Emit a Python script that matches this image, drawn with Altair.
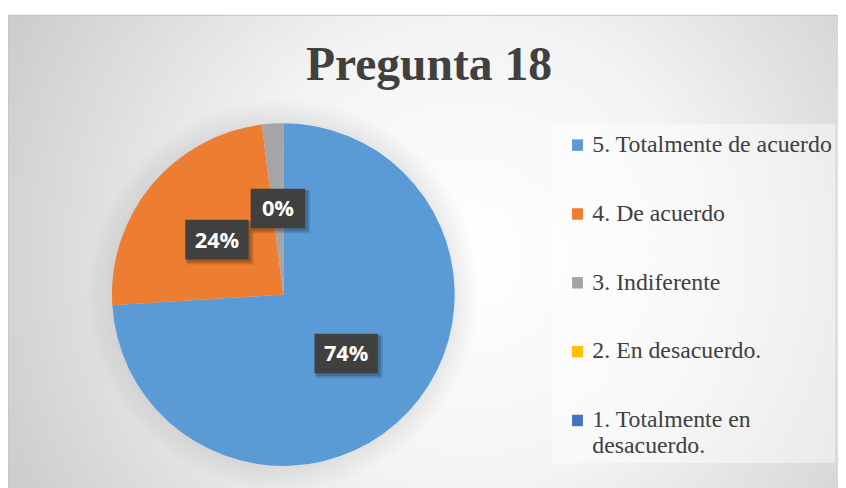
import altair as alt
import pandas as pd

# ---------------- data ----------------
title_text = ["Pregunta 18"]
categories = [
    "5. Totalmente de acuerdo",
    "4. De acuerdo",
    "3. Indiferente",
    "2. En desacuerdo.",
    "1. Totalmente en desacuerdo.",
]
values = [74, 24, 2, 0, 0]
labels = ["74%", "24%", "0%", "", ""]
colors = ["#5B9BD5", "#ED7D31", "#A5A5A5", "#FFC000", "#4472C4"]

df = pd.DataFrame({
    "category": categories,
    "value": values,
    "label": labels,
    "order": list(range(len(categories))),
})

# ---------------- layout constants ----------------
W, H = 838, 480
CX, CY, R = 278, 287, 173
LR = 87  # label radius

bg = alt.Chart(pd.DataFrame({"a": [0]})).mark_rect(
    fill=alt.RadialGradient(
        gradient="radial",
        x1=0.55, y1=0.5, x2=0.55, y2=0.5, r1=0, r2=0.68,
        stops=[
            alt.GradientStop(offset=0, color="#ffffff"),
            alt.GradientStop(offset=0.4, color="#f4f4f4"),
            alt.GradientStop(offset=1, color="#c4c4c4"),
        ],
    ),
    stroke="#c0c0c0",
    strokeWidth=1,
).encode(x=alt.value(0), x2=alt.value(W + 10), y=alt.value(5), y2=alt.value(H + 10))

legend_box = alt.Chart(pd.DataFrame({"a": [0]})).mark_rect(
    color="#ffffff", opacity=0.45
).encode(x=alt.value(550), x2=alt.value(835), y=alt.value(115), y2=alt.value(457))

halo_r = [196, 192, 188, 184, 180, 176]
halo = alt.layer(*[
    alt.Chart(pd.DataFrame({"a": [0]})).mark_arc(
        radius=r, theta=0, theta2=6.2832, color="#9a9a9a", opacity=0.028
    ).encode(x=alt.value(CX), y=alt.value(CY))
    for r in halo_r
])

pie = alt.Chart(df).mark_arc(radius=R).encode(
    theta=alt.Theta("value:Q", stack=True),
    order=alt.Order("order:Q"),
    color=alt.Color(
        "category:N",
        sort=categories,
        scale=alt.Scale(domain=categories, range=colors),
        legend=alt.Legend(
            orient="none",
            legendX=552,
            legendY=120,
            title=None,
            labelFont="Liberation Serif",
            labelFontSize=24,
            labelColor="#404040",
            labelBaseline="alphabetic",
            labelLimit=400,
            labelOffset=3,
            labelExpr="datum.label == '1. Totalmente en desacuerdo.' ? ['1. Totalmente en', 'desacuerdo.'] : datum.label",
            symbolType="M-1,-2.3H1V-0.2H-1Z",
            symbolSize=121,
            symbolStrokeWidth=0,
            rowPadding=45.5,
            padding=11,
        ),
    ),
).encode(x=alt.value(CX), y=alt.value(CY))

base_lab = alt.Chart(df).transform_joinaggregate(
    total="sum(value)"
).transform_window(
    cum="sum(value)", sort=[alt.SortField("order")], frame=[None, 0]
).transform_calculate(
    mid="(datum.cum - datum.value / 2) / datum.total * 2 * PI",
).transform_calculate(
    lx=f"{CX} + {LR} * sin(datum.mid)",
    ly=f"{CY} - {LR} * cos(datum.mid)",
    bw="length(datum.label) * 9 + 37",
).transform_calculate(
    x0="datum.lx - datum.bw / 2",
    x1="datum.lx + datum.bw / 2",
    y0="datum.ly - 20",
    y1="datum.ly + 20",
).transform_filter("datum.value > 0")

shadow1 = base_lab.transform_calculate(
    sx0="datum.x0 + 2", sx1="datum.x1 + 5", sy0="datum.y0 + 2", sy1="datum.y1 + 5"
).mark_rect(color="#000000", opacity=0.12).encode(
    x=alt.X("sx0:Q", scale=None), x2="sx1:Q",
    y=alt.Y("sy0:Q", scale=None), y2="sy1:Q",
)
shadow2 = base_lab.transform_calculate(
    sx0="datum.x0 + 1", sx1="datum.x1 + 3", sy0="datum.y0 + 1", sy1="datum.y1 + 3"
).mark_rect(color="#000000", opacity=0.18).encode(
    x=alt.X("sx0:Q", scale=None), x2="sx1:Q",
    y=alt.Y("sy0:Q", scale=None), y2="sy1:Q",
)
boxes = base_lab.mark_rect(color="#404040").encode(
    x=alt.X("x0:Q", scale=None), x2="x1:Q",
    y=alt.Y("y0:Q", scale=None), y2="y1:Q",
)
texts = base_lab.mark_text(
    font="Open Sans", fontWeight="bold", fontSize=22, color="#ffffff",
    align="center", baseline="middle", dy=1,
).encode(
    x=alt.X("lx:Q", scale=None),
    y=alt.Y("ly:Q", scale=None),
    text="label:N",
)

title = alt.Chart(pd.DataFrame({"t": title_text})).mark_text(
    font="Liberation Serif", fontWeight="bold", fontSize=48, color="#404040",
    align="center", baseline="alphabetic",
).encode(x=alt.value(425), y=alt.value(70), text="t:N")

chart = alt.layer(bg, legend_box, halo, pie, shadow1, shadow2, boxes, texts, title).properties(
    width=W, height=H, autosize="none", padding=0,
).configure_view(stroke=None).configure_legend(
    labelFont="Liberation Serif", labelFontSize=24, labelColor="#404040"
)

chart.save("out.html", embed_options={"renderer": "svg", "actions": False})
